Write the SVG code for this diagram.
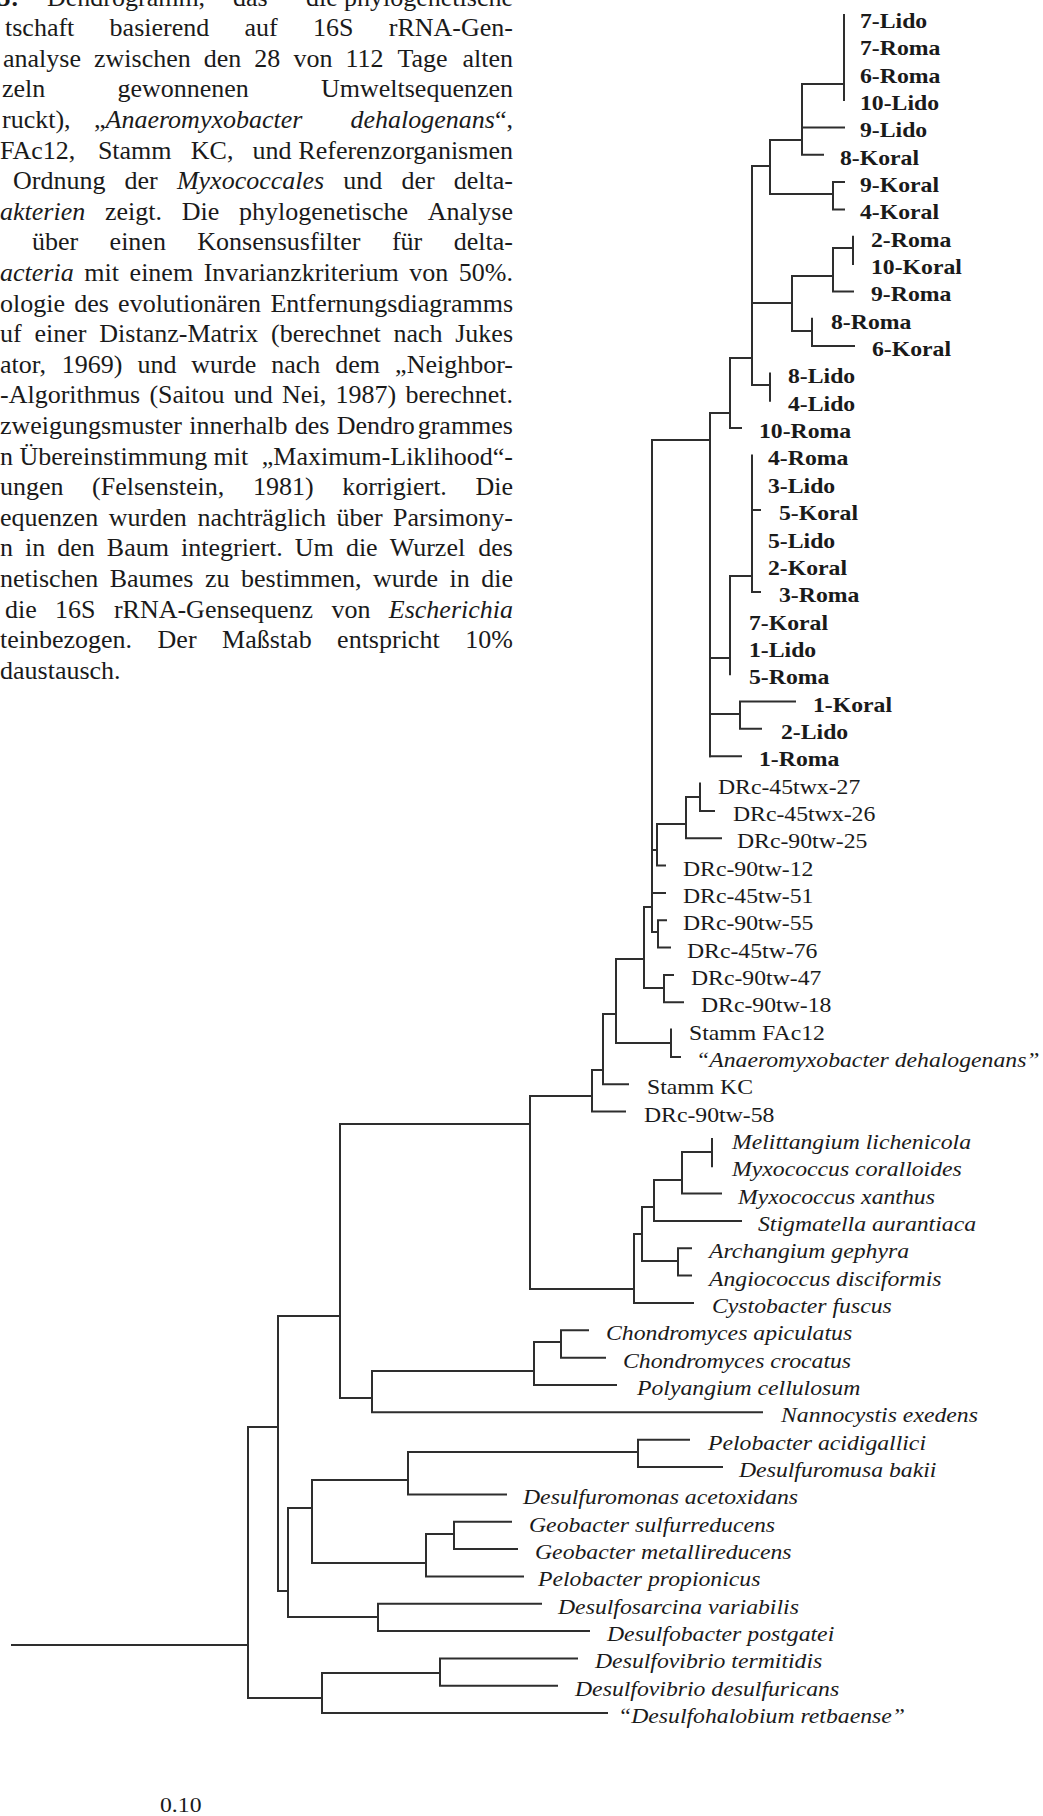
<svg xmlns="http://www.w3.org/2000/svg" width="1043" height="1816" viewBox="0 0 1043 1816">
<style>
.c{font-family:"Liberation Serif",serif;font-size:26px;fill:#1a1a1a}
.ci{font-style:italic}
.cb{font-weight:bold}
.e{text-anchor:end}
.b,.r,.i{font-family:"Liberation Serif",serif;font-size:21px;fill:#1a1a1a;transform:scale(1.13,1)}
.b{font-weight:bold}
.i{font-style:italic}
#connectors path{fill:none;stroke:#2e2e2e;stroke-width:2;stroke-linecap:square}
</style>
<rect width="1043" height="1816" fill="#fff"/>
<g id="caption">
<text class="c" y="5.5"><tspan class="cb" x="-22">3.5:</tspan><tspan x="47">Dendrogramm,</tspan><tspan x="233">das</tspan><tspan x="306">die</tspan></text><text class="c e" x="513" y="5.5">phylogenetische</text>
<text class="c" y="36.1"><tspan x="5">tschaft</tspan><tspan x="109.6">basierend</tspan><tspan x="244.5">auf</tspan><tspan x="313">16S</tspan></text><text class="c e" x="513" y="36.1">rRNA-Gen-</text>
<text class="c" y="66.7"><tspan x="3">analyse</tspan><tspan x="94">zwischen</tspan><tspan x="203.8">den</tspan><tspan x="254.3">28</tspan><tspan x="293.4">von</tspan><tspan x="345.4">112</tspan><tspan x="397.4">Tage</tspan></text><text class="c e" x="513" y="66.7">alten</text>
<text class="c" y="97.3"><tspan x="2">zeln</tspan><tspan x="117.4">gewonnenen</tspan></text><text class="c e" x="513" y="97.3">Umweltsequenzen</text>
<text class="c" y="127.9"><tspan x="2">ruckt),</tspan><tspan x="94">„</tspan><tspan class="ci">Anaeromyxobacter</tspan></text><text class="c e" x="513" y="127.9"><tspan class="ci">dehalogenans</tspan>“,</text>
<text class="c" y="158.5"><tspan x="0">FAc12,</tspan><tspan x="97.9">Stamm</tspan><tspan x="190.8">KC,</tspan><tspan x="252.6">und</tspan></text><text class="c e" x="513" y="158.5">Referenzorganismen</text>
<text class="c" y="189.1"><tspan x="13">Ordnung</tspan><tspan x="124.5">der</tspan><tspan class="ci" x="176.9">Myxococcales</tspan><tspan x="343.3">und</tspan><tspan x="401.4">der</tspan></text><text class="c e" x="513" y="189.1">delta-</text>
<text class="c" y="219.7"><tspan class="ci" x="0">akterien</tspan><tspan x="105">zeigt.</tspan><tspan x="181.8">Die</tspan><tspan x="239.1">phylogenetische</tspan></text><text class="c e" x="513" y="219.7">Analyse</text>
<text class="c" y="250.3"><tspan x="32">über</tspan><tspan x="109.6">einen</tspan><tspan x="197.3">Konsensusfilter</tspan><tspan x="391.9">für</tspan></text><text class="c e" x="513" y="250.3">delta-</text>
<text class="c" y="280.9"><tspan class="ci" x="0">acteria</tspan><tspan x="84.3">mit</tspan><tspan x="129.6">einem</tspan><tspan x="203.7">Invarianzkriterium</tspan><tspan x="409.3">von</tspan></text><text class="c e" x="513" y="280.9">50%.</text>
<text class="c" y="311.5"><tspan x="0">ologie</tspan><tspan x="74.2">des</tspan><tspan x="118.1">evolutionären</tspan></text><text class="c e" x="513" y="311.5">Entfernungsdiagramms</text>
<text class="c" y="342.1"><tspan x="0">uf</tspan><tspan x="34.5">einer</tspan><tspan x="99.3">Distanz-Matrix</tspan><tspan x="271">(berechnet</tspan><tspan x="393.5">nach</tspan></text><text class="c e" x="513" y="342.1">Jukes</text>
<text class="c" y="372.7"><tspan x="0">ator,</tspan><tspan x="61.8">1969)</tspan><tspan x="137.4">und</tspan><tspan x="191.3">wurde</tspan><tspan x="271.2">nach</tspan><tspan x="335.2">dem</tspan></text><text class="c e" x="513" y="372.7">„Neighbor-</text>
<text class="c" y="403.3"><tspan x="0">-Algorithmus</tspan><tspan x="149.4">(Saitou</tspan><tspan x="233.8">und</tspan><tspan x="282.1">Nei,</tspan><tspan x="335.4">1987)</tspan></text><text class="c e" x="513" y="403.3">berechnet.</text>
<text class="c" y="433.9"><tspan x="0">zweigungsmuster</tspan><tspan x="189.3">innerhalb</tspan><tspan x="294.8">des</tspan></text><text class="c e" x="513" y="433.9">Dendro<tspan dx="3">grammes</tspan></text>
<text class="c" y="464.5"><tspan x="0">n</tspan><tspan x="19.4">Übereinstimmung</tspan><tspan x="213.6">mit</tspan></text><text class="c e" x="513" y="464.5">„Maximum-Liklihood“-</text>
<text class="c" y="495.1"><tspan x="0">ungen</tspan><tspan x="92.1">(Felsenstein,</tspan><tspan x="252.9">1981)</tspan><tspan x="342.2">korrigiert.</tspan></text><text class="c e" x="513" y="495.1">Die</text>
<text class="c" y="525.7"><tspan x="0">equenzen</tspan><tspan x="108.8">wurden</tspan><tspan x="197.4">nachträglich</tspan><tspan x="336.5">über</tspan></text><text class="c e" x="513" y="525.7">Parsimony-</text>
<text class="c" y="556.3"><tspan x="0">n</tspan><tspan x="25">in</tspan><tspan x="57.3">den</tspan><tspan x="106.8">Baum</tspan><tspan x="181">integriert.</tspan><tspan x="294.8">Um</tspan><tspan x="345.9">die</tspan><tspan x="389.7">Wurzel</tspan></text><text class="c e" x="513" y="556.3">des</text>
<text class="c" y="586.9"><tspan x="0">netischen</tspan><tspan x="109.7">Baumes</tspan><tspan x="205">zu</tspan><tspan x="241">bestimmen,</tspan><tspan x="373.1">wurde</tspan><tspan x="449.6">in</tspan></text><text class="c e" x="513" y="586.9">die</text>
<text class="c" y="617.5"><tspan x="5">die</tspan><tspan x="55.1">16S</tspan><tspan x="113.9">rRNA-Gensequenz</tspan><tspan x="331.5">von</tspan></text><text class="c e ci" x="513" y="617.5">Escherichia</text>
<text class="c" y="648.1"><tspan x="0">teinbezogen.</tspan><tspan x="157.6">Der</tspan><tspan x="222.1">Maßstab</tspan><tspan x="337.1">entspricht</tspan></text><text class="c e" x="513" y="648.1">10%</text>
<text class="c" x="0" y="678.7">daustausch.</text>
</g>
<g id="connectors">
<path d="M844 15V100M802 84H844M802 127.4H844M802 154.7H823M802 84V154.7M770 140H802M833 182V209.4M833 182H844M833 209.4H844M770 194H833M770 140V194M752 166H770M752 166V385"/>
<path d="M853 236.7V264.1M833 248H853M833 291.4H853M833 248V291.4M792 276H833M812 318.7V346.1M812 346.1H854M792 331H812M792 276V331M752 303H792M770 373.4V400.8M752 385H770"/>
<path d="M730 358V428.1M730 358H752M730 428.1H741M710 413V756.2M710 413H730"/>
<path d="M752 455.4V592.1M752 510.1H760M752 592.1H760M730 576H752M730 576V674.2M710 658H730M740 701.5V728.8M740 701.5H795M740 728.8H761M710 714H740M710 756.2H741"/>
<path d="M652 440V932M652 440H710M700 783.5V810.9M700 810.9H714M686 797H700M686 797V838.2M686 838.2H721M657 824H686M657 824V865.5M657 865.5H665M652 850H657M652 892.9H665M658 920.2V947.6M658 920.2H666M658 947.6H670M652 932H658"/>
<path d="M644 907V988M644 907H652M644 988H664M664 974.9V1002.2M664 974.9H673M664 1002.2H683M616 959V1043M616 959H644M616 1043H671M671 1029.6V1056.9M671 1056.9H680M603 1014V1084.3M603 1014H616M603 1084.3H628M592 1070V1111.6M592 1070H603M592 1111.6H625"/>
<path d="M530 1096V1289M530 1096H592M530 1289H634M712 1138.9V1166.3M682 1152H712M682 1152V1193.6M682 1193.6H721M654 1180H682M654 1180V1221M654 1221H741M642 1207H654M678 1248.3V1275.6M678 1248.3H691M678 1275.6H691M642 1261H678M642 1207V1261M634 1234H642M634 1234V1303M634 1303H693"/>
<path d="M340 1124V1398M340 1124H530M372 1371V1412.3M340 1398H372M372 1412.3H762M534 1342V1385M372 1371H534M534 1385H616M561 1330.3V1357.7M534 1342H561M561 1330.3H588M561 1357.7H605"/>
<path d="M278 1316V1591M278 1316H340M278 1591H288M288 1508V1617M288 1508H312M288 1617H378M312 1480V1563M312 1480H408M312 1563H426M408 1452V1494.4M408 1452H638M408 1494.4H506M638 1439.7V1467M638 1439.7H689M638 1467H722M426 1534V1576.4M426 1534H454M426 1576.4H523M454 1521.7V1549M454 1521.7H511M454 1549H517M378 1603.7V1631.1M378 1603.7H541M378 1631.1H589"/>
<path d="M248 1427V1698M248 1427H278M248 1698H322M12 1645H248M322 1673V1713.1M322 1673H440M322 1713.1H607M440 1658.4V1685.7M440 1658.4H577M440 1685.7H557"/>
</g>
<g id="leaves">
<g id="leaf-7-lido" transform="translate(860 28)"><text class="b">7-Lido</text></g>
<g id="leaf-7-roma" transform="translate(860 55.3)"><text class="b">7-Roma</text></g>
<g id="leaf-6-roma" transform="translate(860 82.7)"><text class="b">6-Roma</text></g>
<g id="leaf-10-lido" transform="translate(860 110)"><text class="b">10-Lido</text></g>
<g id="leaf-9-lido" transform="translate(860 137.4)"><text class="b">9-Lido</text></g>
<g id="leaf-8-koral" transform="translate(840 164.7)"><text class="b">8-Koral</text></g>
<g id="leaf-9-koral" transform="translate(860 192)"><text class="b">9-Koral</text></g>
<g id="leaf-4-koral" transform="translate(860 219.4)"><text class="b">4-Koral</text></g>
<g id="leaf-2-roma" transform="translate(871 246.7)"><text class="b">2-Roma</text></g>
<g id="leaf-10-koral" transform="translate(871 274.1)"><text class="b">10-Koral</text></g>
<g id="leaf-9-roma" transform="translate(871 301.4)"><text class="b">9-Roma</text></g>
<g id="leaf-8-roma" transform="translate(831 328.7)"><text class="b">8-Roma</text></g>
<g id="leaf-6-koral" transform="translate(872 356.1)"><text class="b">6-Koral</text></g>
<g id="leaf-8-lido" transform="translate(788 383.4)"><text class="b">8-Lido</text></g>
<g id="leaf-4-lido" transform="translate(788 410.8)"><text class="b">4-Lido</text></g>
<g id="leaf-10-roma" transform="translate(759 438.1)"><text class="b">10-Roma</text></g>
<g id="leaf-4-roma" transform="translate(768 465.4)"><text class="b">4-Roma</text></g>
<g id="leaf-3-lido" transform="translate(768 492.8)"><text class="b">3-Lido</text></g>
<g id="leaf-5-koral" transform="translate(779 520.1)"><text class="b">5-Koral</text></g>
<g id="leaf-5-lido" transform="translate(768 547.5)"><text class="b">5-Lido</text></g>
<g id="leaf-2-koral" transform="translate(768 574.8)"><text class="b">2-Koral</text></g>
<g id="leaf-3-roma" transform="translate(779 602.1)"><text class="b">3-Roma</text></g>
<g id="leaf-7-koral" transform="translate(749 629.5)"><text class="b">7-Koral</text></g>
<g id="leaf-1-lido" transform="translate(749 656.8)"><text class="b">1-Lido</text></g>
<g id="leaf-5-roma" transform="translate(749 684.2)"><text class="b">5-Roma</text></g>
<g id="leaf-1-koral" transform="translate(813 711.5)"><text class="b">1-Koral</text></g>
<g id="leaf-2-lido" transform="translate(781 738.8)"><text class="b">2-Lido</text></g>
<g id="leaf-1-roma" transform="translate(759 766.2)"><text class="b">1-Roma</text></g>
<g id="leaf-drc-45twx-27" transform="translate(718 793.5)"><text class="r">DRc-45twx-27</text></g>
<g id="leaf-drc-45twx-26" transform="translate(733 820.9)"><text class="r">DRc-45twx-26</text></g>
<g id="leaf-drc-90tw-25" transform="translate(737 848.2)"><text class="r">DRc-90tw-25</text></g>
<g id="leaf-drc-90tw-12" transform="translate(683 875.5)"><text class="r">DRc-90tw-12</text></g>
<g id="leaf-drc-45tw-51" transform="translate(683 902.9)"><text class="r">DRc-45tw-51</text></g>
<g id="leaf-drc-90tw-55" transform="translate(683 930.2)"><text class="r">DRc-90tw-55</text></g>
<g id="leaf-drc-45tw-76" transform="translate(687 957.6)"><text class="r">DRc-45tw-76</text></g>
<g id="leaf-drc-90tw-47" transform="translate(691 984.9)"><text class="r">DRc-90tw-47</text></g>
<g id="leaf-drc-90tw-18" transform="translate(701 1012.2)"><text class="r">DRc-90tw-18</text></g>
<g id="leaf-stamm-fac12" transform="translate(689 1039.6)"><text class="r">Stamm FAc12</text></g>
<g id="leaf-anaeromyxobacter" transform="translate(696 1066.9)"><text class="i">“Anaeromyxobacter dehalogenans”</text></g>
<g id="leaf-stamm-kc" transform="translate(647 1094.3)"><text class="r">Stamm KC</text></g>
<g id="leaf-drc-90tw-58" transform="translate(644 1121.6)"><text class="r">DRc-90tw-58</text></g>
<g id="leaf-melittangium" transform="translate(732 1148.9)"><text class="i">Melittangium lichenicola</text></g>
<g id="leaf-myxococcus-coralloides" transform="translate(732 1176.3)"><text class="i">Myxococcus coralloides</text></g>
<g id="leaf-myxococcus-xanthus" transform="translate(738 1203.6)"><text class="i">Myxococcus xanthus</text></g>
<g id="leaf-stigmatella" transform="translate(758 1231)"><text class="i">Stigmatella aurantiaca</text></g>
<g id="leaf-archangium" transform="translate(709 1258.3)"><text class="i">Archangium gephyra</text></g>
<g id="leaf-angiococcus" transform="translate(709 1285.6)"><text class="i">Angiococcus disciformis</text></g>
<g id="leaf-cystobacter" transform="translate(712 1313)"><text class="i">Cystobacter fuscus</text></g>
<g id="leaf-chondromyces-apiculatus" transform="translate(606 1340.3)"><text class="i">Chondromyces apiculatus</text></g>
<g id="leaf-chondromyces-crocatus" transform="translate(623 1367.7)"><text class="i">Chondromyces crocatus</text></g>
<g id="leaf-polyangium" transform="translate(637 1395)"><text class="i">Polyangium cellulosum</text></g>
<g id="leaf-nannocystis" transform="translate(781 1422.3)"><text class="i">Nannocystis exedens</text></g>
<g id="leaf-pelobacter-acidigallici" transform="translate(708 1449.7)"><text class="i">Pelobacter acidigallici</text></g>
<g id="leaf-desulfuromusa" transform="translate(739 1477)"><text class="i">Desulfuromusa bakii</text></g>
<g id="leaf-desulfuromonas" transform="translate(523 1504.4)"><text class="i">Desulfuromonas acetoxidans</text></g>
<g id="leaf-geobacter-sulfurreducens" transform="translate(529 1531.7)"><text class="i">Geobacter sulfurreducens</text></g>
<g id="leaf-geobacter-metallireducens" transform="translate(535 1559)"><text class="i">Geobacter metallireducens</text></g>
<g id="leaf-pelobacter-propionicus" transform="translate(538 1586.4)"><text class="i">Pelobacter propionicus</text></g>
<g id="leaf-desulfosarcina" transform="translate(558 1613.7)"><text class="i">Desulfosarcina variabilis</text></g>
<g id="leaf-desulfobacter" transform="translate(607 1641.1)"><text class="i">Desulfobacter postgatei</text></g>
<g id="leaf-desulfovibrio-termitidis" transform="translate(595 1668.4)"><text class="i">Desulfovibrio termitidis</text></g>
<g id="leaf-desulfovibrio-desulfuricans" transform="translate(575 1695.7)"><text class="i">Desulfovibrio desulfuricans</text></g>
<g id="leaf-desulfohalobium" transform="translate(618 1723.1)"><text class="i">“Desulfohalobium retbaense”</text></g>
</g>
<g id="scale-label" transform="translate(160 1812)"><text class="r">0.10</text></g>
</svg>
